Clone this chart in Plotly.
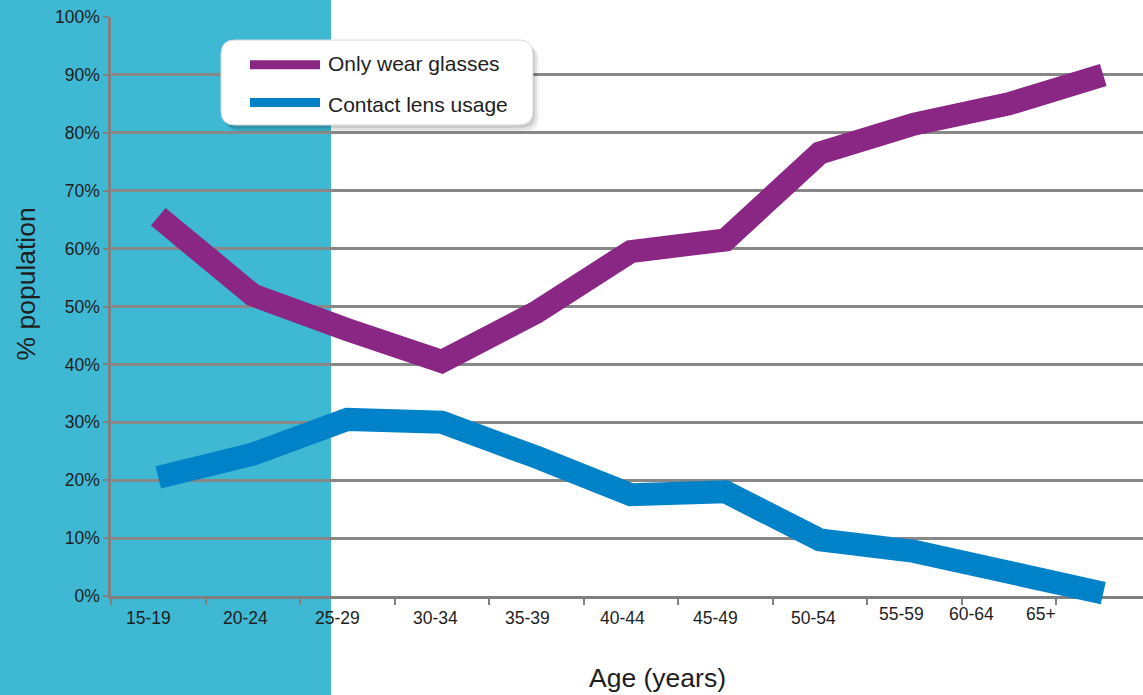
import plotly.graph_objects as go

# ---- data -------------------------------------------------------------
age_groups = ["15-19", "20-24", "25-29", "30-34", "35-39", "40-44",
              "45-49", "50-54", "55-59", "60-64", "65+"]
only_glasses = [65.5, 52, 46, 40.5, 49, 59.5, 61.5, 76.5, 81.5, 85, 90]
contact_lens = [20.5, 24.5, 30.5, 30, 24, 17.5, 18, 9.7, 7.7, 3.8, 0.5]
series_names = ["Only wear glasses", "Contact lens usage"]
y_ticks = list(range(0, 101, 10))
y_tick_text = [f"{v}%" for v in y_ticks]

# ---- styling ----------------------------------------------------------
PURPLE = "#8A2785"
BLUE = "#0082C8"
CYAN = "#3EB8D3"
GRID = "#888888"
TEXT = "#1E1E1E"
FONT = "Liberation Sans, Arial, Helvetica, sans-serif"

W, H = 1143, 695
ML, MR, MT, MB = 111, 0, 17, 83
PW, PH = W - ML - MR, H - MT - MB
AXIS_BOTTOM = 596          # pixel row of the 0% baseline
CAT_W = 94.5               # pixel width of one age band

# horizontal nudges of the age labels (in category units)
label_shift = [-0.1, -0.08, -0.1, -0.07, -0.09, -0.085, -0.1, -0.07,
               -0.13, -0.39, -0.66]
label_row = [618] * 8 + [613.5] * 3


def px_x(px):
    return (px - ML) / PW


def px_y(py):
    return (H - MB - py) / PH


y_dom0 = px_y(AXIS_BOTTOM)
per_pct = (AXIS_BOTTOM - MT) / 100.0
y2_min = -(H - MB - AXIS_BOTTOM) / per_pct


def rounded_rect(x0, y0, x1, y1, r):
    pts = [
        ("M", [(x0 + r, y0)]),
        ("L", [(x1 - r, y0)]),
        ("Q", [(x1, y0), (x1, y0 + r)]),
        ("L", [(x1, y1 - r)]),
        ("Q", [(x1, y1), (x1 - r, y1)]),
        ("L", [(x0 + r, y1)]),
        ("Q", [(x0, y1), (x0, y1 - r)]),
        ("L", [(x0, y0 + r)]),
        ("Q", [(x0, y0), (x0 + r, y0)]),
    ]
    parts = []
    for cmd, coords in pts:
        parts.append(cmd + " ".join(f"{px_x(a):.5f},{px_y(b):.5f}" for a, b in coords))
    return " ".join(parts) + " Z"


fig = go.Figure()

# empty trace so the gridded percentage axes form their own subplot
fig.add_trace(go.Scatter(x=age_groups, y=[None] * len(age_groups), mode="lines",
                         xaxis="x", yaxis="y", showlegend=False, hoverinfo="skip"))

# the two series sit on a taller, hidden axis so the thick strokes are not
# clipped at the 0% baseline
for name, values, color in [(series_names[0], only_glasses, PURPLE),
                            (series_names[1], contact_lens, BLUE)]:
    fig.add_trace(go.Scatter(
        x=age_groups, y=values, name=name, mode="lines",
        line=dict(color=color, width=23),
        xaxis="x", yaxis="y2", showlegend=False,
    ))

shapes = [
    # shaded band on the left
    dict(type="rect", xref="paper", yref="paper",
         x0=px_x(0), x1=px_x(331), y0=px_y(H), y1=px_y(0),
         fillcolor=CYAN, line=dict(width=0), layer="below"),
]

# legend panel with a soft drop shadow
for dx, dy, a in [(6, 7, 0.05), (4, 5, 0.07), (2, 3, 0.09)]:
    shapes.append(dict(type="path", xref="paper", yref="paper",
                       path=rounded_rect(221 + dx, 40 + dy, 533 + dx, 125 + dy, 14),
                       fillcolor=f"rgba(0,0,0,{a})", line=dict(width=0)))
shapes.append(dict(type="path", xref="paper", yref="paper",
                   path=rounded_rect(221, 40, 533, 125, 14),
                   fillcolor="white", line=dict(color="#D8D8D8", width=1)))
for color, row in [(PURPLE, 64.7), (BLUE, 102.5)]:
    shapes.append(dict(type="line", xref="paper", yref="paper",
                       x0=px_x(250), x1=px_x(320), y0=px_y(row), y1=px_y(row),
                       line=dict(color=color, width=9)))

annotations = []
for name, row in zip(series_names, [63.5, 104.5]):
    annotations.append(dict(text=name, xref="paper", yref="paper",
                            x=px_x(326), y=px_y(row), xanchor="left", yanchor="middle",
                            showarrow=False, font=dict(size=21, color=TEXT, family=FONT)))

for i, (lab, sh, row) in enumerate(zip(age_groups, label_shift, label_row)):
    annotations.append(dict(text=lab, xref="x", yref="paper",
                            x=i + sh, y=px_y(row), xanchor="center", yanchor="middle",
                            showarrow=False, font=dict(size=17.5, color=TEXT, family=FONT)))

annotations.append(dict(text="% population", xref="paper", yref="paper",
                        x=px_x(25), y=px_y(284.5), textangle=-90,
                        xanchor="center", yanchor="middle", showarrow=False,
                        font=dict(size=26.5, color=TEXT, family=FONT)))
annotations.append(dict(text="Age (years)", xref="paper", yref="paper",
                        x=px_x(657.5), y=px_y(678), xanchor="center", yanchor="middle",
                        showarrow=False, font=dict(size=26.5, color=TEXT, family=FONT)))

fig.update_layout(
    width=W, height=H,
    margin=dict(l=ML, r=MR, t=MT, b=MB, pad=0),
    paper_bgcolor="white", plot_bgcolor="rgba(0,0,0,0)",
    font=dict(family=FONT, color=TEXT),
    shapes=shapes, annotations=annotations,
    xaxis=dict(
        type="category", categoryorder="array", categoryarray=age_groups,
        range=[-0.5, -0.5 + PW / CAT_W], anchor="y",
        showline=True, linecolor="#808080", linewidth=2.5,
        ticks="outside", tickson="boundaries", ticklen=6, tickwidth=2,
        tickcolor="#808080", showticklabels=False, showgrid=False, zeroline=False,
        fixedrange=True,
    ),
    yaxis=dict(
        domain=[y_dom0, 1], range=[0, 100], anchor="x",
        tickvals=y_ticks, ticktext=y_tick_text,
        tickfont=dict(size=17.5, color=TEXT, family=FONT),
        showline=True, linecolor="#808080", linewidth=2.5,
        ticks="outside", ticklen=5, tickwidth=2, tickcolor="#808080",
        ticklabelstandoff=0,
        showgrid=True, gridcolor=GRID, gridwidth=2.8, zeroline=False,
    ),
    yaxis2=dict(
        domain=[0, 1], range=[y2_min, 100], anchor="x", visible=False,
    ),
)

fig.write_html("out.html")
